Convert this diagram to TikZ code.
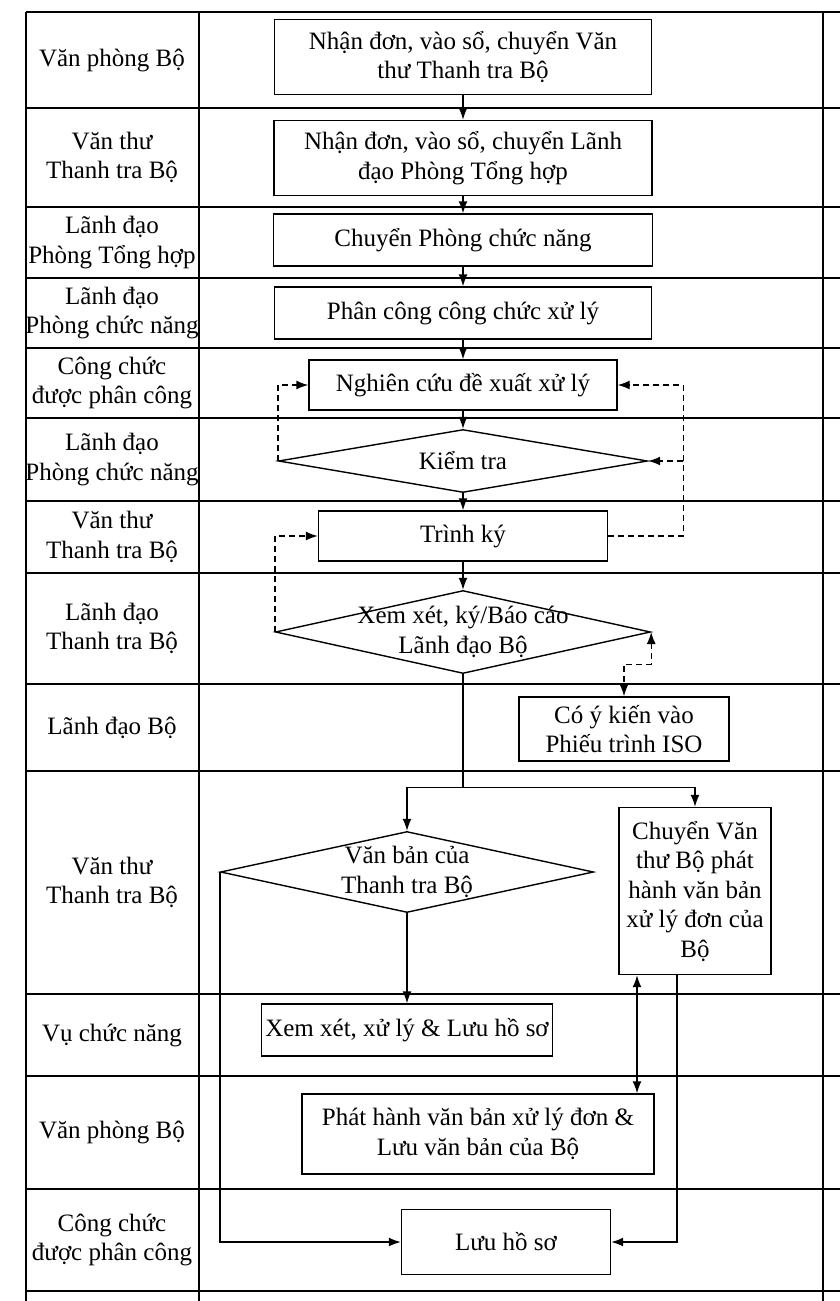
\documentclass[tikz,border=0pt]{standalone}
\usepackage{fontspec}
\setmainfont{Liberation Serif}
\usetikzlibrary{shapes.geometric, arrows.meta}

\begin{document}
\begin{tikzpicture}[x=0.5pt, y=-0.5pt, >={Latex[length=6pt,width=4.5pt]}, line width=0.7pt, node distance=40pt,
    font=\fontsize{12.5}{14.75}\selectfont,
    box/.style={rectangle, draw, align=center, inner sep=2pt},
    decision/.style={diamond, draw, inner sep=0pt},
    lane/.style={align=center},
    feedback/.style={dash pattern=on 3pt off 2pt}]
    \useasboundingbox (0,0) rectangle (840,1301);

    % swimlane table
    \draw (26,12) -- (26,1301) (199,12) -- (199,1301) (823,12) -- (823,1301);
    \foreach \y in {12,108,207,278,348,418,501,573,684,771,994,1076,1189,1291}
        \draw (26,\y) -- (840,\y);

    \node[lane] (lane1) at (112,60) {Văn phòng Bộ};
    \node[lane] (lane2) at (112,157.5) {Văn thư\\Thanh tra Bộ};
    \node[lane] (lane3) at (112,242.5) {Lãnh đạo\\Phòng Tổng hợp};
    \node[lane] (lane4) at (112,313) {Lãnh đạo\\Phòng chức năng};
    \node[lane] (lane5) at (112,383) {Công chức\\được phân công};
    \node[lane] (lane6) at (112,459.5) {Lãnh đạo\\Phòng chức năng};
    \node[lane] (lane7) at (112,537) {Văn thư\\Thanh tra Bộ};
    \node[lane] (lane8) at (112,628.5) {Lãnh đạo\\Thanh tra Bộ};
    \node[lane] (lane9) at (112,727.5) {Lãnh đạo Bộ};
    \node[lane] (lane10) at (112,882.5) {Văn thư\\Thanh tra Bộ};
    \node[lane] (lane11) at (112,1035) {Vụ chức năng};
    \node[lane] (lane12) at (112,1132.5) {Văn phòng Bộ};
    \node[lane] (lane13) at (112,1240) {Công chức\\được phân công};

    % process steps
    \node[box, minimum width=188.5pt, minimum height=37.5pt] (nhan1) at (463,57) {Nhận đơn, vào sổ, chuyển Văn\\thư Thanh tra Bộ};
    \node[box, minimum width=189pt, minimum height=37.5pt] (nhan2) [below of=nhan1, yshift=-10.5pt] {Nhận đơn, vào sổ, chuyển Lãnh\\đạo Phòng Tổng hợp};
    \node[box, minimum width=189.5pt, minimum height=26pt] (phong) [below of=nhan2, yshift=-1pt] {Chuyển Phòng chức năng};
    \node[box, minimum width=188.5pt, minimum height=26pt] (phancong) [below of=phong, yshift=3.5pt] {Phân công công chức xử lý};
    \node[box, minimum width=154pt, minimum height=25pt] (nghiencuu) [below of=phancong, yshift=4pt] {Nghiên cứu đề xuất xử lý};
    \node[decision, minimum width=184.5pt, minimum height=31.5pt, label=center:Kiểm tra] (kiemtra) [below of=nghiencuu, yshift=2pt] {};
    \node[box, minimum width=144.5pt, minimum height=25pt] (trinhky) [below of=kiemtra, yshift=2.5pt] {Trình ký};
    \node[decision, minimum width=187.5pt, minimum height=41.5pt, label={[align=center]center:{Xem xét, ký/Báo cáo\\Lãnh đạo Bộ}}] (xemxet) [below of=trinhky, yshift=-8pt] {};
    \node[box, minimum width=105pt, minimum height=32pt] (ykien) [below of=xemxet, xshift=80.5pt, yshift=-8.5pt] {Có ý kiến vào\\Phiếu trình ISO};
    \node[decision, minimum width=186.5pt, minimum height=40.5pt, label={[align=center]center:{Văn bản của\\Thanh tra Bộ}}] (vanban) [below of=xemxet, xshift=-28pt, yshift=-80pt] {};
    \node[box, minimum width=76pt, minimum height=83.5pt] (chuyen) [below of=xemxet, xshift=116pt, yshift=-89.5pt] {Chuyển Văn\\thư Bộ phát\\hành văn bản\\xử lý đơn của\\Bộ};
    \node[box, minimum width=144.5pt, minimum height=26pt] (xuly) [below of=vanban, yshift=-39pt] {Xem xét, xử lý \& Lưu hồ sơ};
    \node[box, minimum width=176pt, minimum height=40pt] (phathanh) [below of=xuly, xshift=35.5pt, yshift=-12pt] {Phát hành văn bản xử lý đơn \&\\Lưu văn bản của Bộ};
    \node[box, minimum width=104.5pt, minimum height=32.5pt] (luu) [below of=phathanh, xshift=14pt, yshift=-14pt] {Lưu hồ sơ};

    \draw[->] (nhan1) -- (nhan2);
    \draw[->] (nhan2) -- (phong);
    \draw[->] (phong) -- (phancong);
    \draw[->] (phancong) -- (nghiencuu);
    \draw[->] (nghiencuu) -- (kiemtra);
    \draw[->] (kiemtra) -- (trinhky);
    \draw[->] (trinhky) -- (xemxet);

    % returns for revision
    \coordinate (backR) at ([xshift=37.5pt]trinhky.east);
    \draw[feedback, ->] (kiemtra.west) |- (nghiencuu.west);
    \draw[feedback, ->] (trinhky.east) -- (backR) |- (nghiencuu.east);
    \draw[feedback, ->] (backR |- kiemtra.east) -- (kiemtra.east);
    \draw[feedback, ->] (xemxet.west) |- (trinhky.west);
    \draw[feedback, <->] (xemxet.east) |- ([yshift=16pt]ykien.north) -- (ykien.north);

    \coordinate (split) at ([yshift=-56.5pt]xemxet.south);
    \draw (xemxet.south) -- (split);
    \draw[->] (split) -| (vanban.north);
    \draw[->] (split) -| (chuyen.north);
    \draw[->] (vanban.south) -- (xuly.north);
    \draw[->] (vanban.west) |- (luu.west);

    \coordinate (chuyenL) at ([xshift=-29pt]chuyen.south);
    \coordinate (chuyenR) at ([xshift=-9pt]chuyen.south);
    \draw[<->] (chuyenL) -- (chuyenL |- phathanh.north);
    \draw[->] (chuyenR) |- (luu.east);
\end{tikzpicture}
\end{document}
